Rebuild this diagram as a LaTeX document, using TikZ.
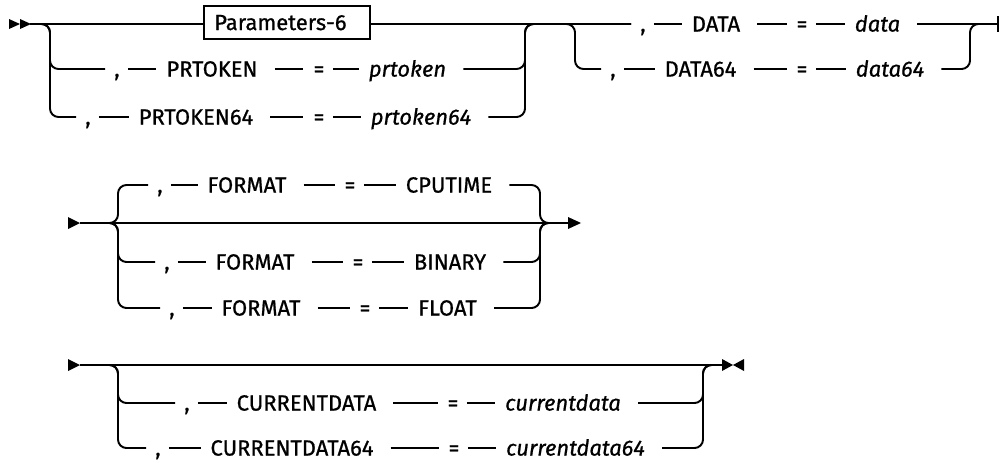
\documentclass[tikz,border=0pt]{standalone}
\usepackage{fontspec}
\setmainfont{Fira Sans}[FakeBold=0.8]
\usetikzlibrary{calc}
\tikzset{>=latex}

\tikzset{
  rail/.style={line width=1.1pt},
  link/.style={rail, shorten <=4.5pt, shorten >=5.5pt},
  klink/.style={link, shorten <=9.6pt},
  tail/.style={rail, rounded corners=4.8pt, shorten <=9.6pt, shorten >=5pt},
  fork/.style={rail, rounded corners=4.8pt, shorten >=5pt},
  word/.style={inner sep=0pt, text height=8.6pt, text depth=0pt, font=\fontsize{12.5}{15}\selectfont},
  var/.style={word, font=\fontsize{12.5}{15}\selectfont\itshape},
  frag/.style={draw, rail, text width=82.8pt, align=left, inner xsep=5.7pt, inner ysep=0pt,
    minimum height=18.7pt, text height=8.6pt, text depth=0pt, font=\fontsize{12.5}{15}\selectfont},
}

\begin{document}
\begin{tikzpicture}[x=0.02cm, y=-0.02cm]
\useasboundingbox (0,0) rectangle (1000,463);

% first line: Parameters-6 or PRTOKEN(64), then DATA(64)
\fill (9,19) -- (20,24) -- (9,29) -- cycle;
\fill (20,19) -- (31,24) -- (20,29) -- cycle;
\coordinate (a0) at (30,24);
\coordinate (s1) at (50,24);
\coordinate (j1) at (525,24);
\coordinate (s2) at (575,24);
\coordinate (j2) at (970,24);
\coordinate (aend) at (998,24);

\node[frag] (par) at (287,22.5) {Parameters-6};

\node[word] (cm1) at (117,69) {,};
\node[word] (pt1) at (212,69) {PRTOKEN};
\node[word] (eq1) at (319,69) {=};
\node[var] (pv1) at (407.5,69) {prtoken};
\node[word] (cm2) at (88,117) {,};
\node[word] (pt2) at (196,117) {PRTOKEN64};
\node[word] (eq2) at (319,117) {=};
\node[var] (pv2) at (421,117) {prtoken64};

\node[word] (cm3) at (643,24) {,};
\node[word] (dk1) at (716,24) {DATA};
\node[word] (eq3) at (802,24) {=};
\node[var] (dv1) at (877.5,24) {data};
\node[word] (cm4) at (613,69) {,};
\node[word] (dk2) at (700.5,69) {DATA64};
\node[word] (eq4) at (802,69) {=};
\node[var] (dv2) at (890,69) {data64};

\draw[rail] (a0) -- (a0 -| par.west);
\draw[rail, shorten >=5pt] (a0 -| par.east) -- (cm3);
\draw[fork] (a0) -- (s1) -- (cm1 -| s1) -- (cm1);
\draw[fork] (a0) -- (s1) -- (cm2 -| s1) -- (cm2);
\draw[link] (cm1) -- (pt1); \draw[klink] (pt1) -- (eq1); \draw[link] (eq1) -- (pv1);
\draw[link] (cm2) -- (pt2); \draw[klink] (pt2) -- (eq2); \draw[link] (eq2) -- (pv2);
\draw[tail] (pv1) -- (pv1 -| j1) -- (j1) -- (cm3);
\draw[tail] (pv2) -- (pv2 -| j1) -- (j1) -- (cm3);

\draw[fork] (a0 -| par.east) -- (s2) -- (cm4 -| s2) -- (cm4);
\draw[link] (cm3) -- (dk1); \draw[klink] (dk1) -- (eq3); \draw[link] (eq3) -- (dv1);
\draw[link] (cm4) -- (dk2); \draw[klink] (dk2) -- (eq4); \draw[link] (eq4) -- (dv2);
\draw[rail, shorten <=9.6pt] (dv1) -- (aend);
\draw[tail, shorten >=0pt] (dv2) -- (dv2 -| j2) -- (j2) -- (aend);
\draw[rail] ($(aend)+(0,-8)$) -- ($(aend)+(0,8)$);

% second line: FORMAT
\coordinate (b0) at (80,223);
\coordinate (s3) at (118,223);
\coordinate (j3) at (540,223);
\coordinate (b1) at (568,223);
\fill (68,217) -- (80,223) -- (68,229) -- cycle;
\fill (568,217) -- (581,223) -- (568,229) -- cycle;

\node[word] (cm5) at (160,185) {,};
\node[word] (fm1) at (247,185) {FORMAT};
\node[word] (eq5) at (350,185) {=};
\node[word] (fv1) at (449,185) {CPUTIME};
\node[word] (cm6) at (167,262) {,};
\node[word] (fm2) at (255,262) {FORMAT};
\node[word] (eq6) at (358,262) {=};
\node[word] (fv2) at (450,262) {BINARY};
\node[word] (cm7) at (172,308) {,};
\node[word] (fm3) at (261,308) {FORMAT};
\node[word] (eq7) at (365,308) {=};
\node[word] (fv3) at (447.5,308) {FLOAT};

\draw[rail] (b0) -- (b1);
\draw[fork] (b0) -- (s3) -- (cm5 -| s3) -- (cm5);
\draw[fork] (b0) -- (s3) -- (cm6 -| s3) -- (cm6);
\draw[fork] (b0) -- (s3) -- (cm7 -| s3) -- (cm7);
\draw[link] (cm5) -- (fm1); \draw[klink] (fm1) -- (eq5); \draw[link] (eq5) -- (fv1);
\draw[link] (cm6) -- (fm2); \draw[klink] (fm2) -- (eq6); \draw[link] (eq6) -- (fv2);
\draw[link] (cm7) -- (fm3); \draw[klink] (fm3) -- (eq7); \draw[link] (eq7) -- (fv3);
\draw[tail, shorten >=0pt] (fv1) -- (fv1 -| j3) -- (j3) -- (b1);
\draw[tail, shorten >=0pt] (fv2) -- (fv2 -| j3) -- (j3) -- (b1);
\draw[tail, shorten >=0pt] (fv3) -- (fv3 -| j3) -- (j3) -- (b1);

% third line: CURRENTDATA(64)
\coordinate (c0) at (80,365);
\coordinate (s4) at (118,365);
\coordinate (j4) at (703,365);
\coordinate (c1) at (722,365);
\fill (68,359) -- (80,365) -- (68,371) -- cycle;
\fill (722,359) -- (733,365) -- (722,371) -- cycle;
\fill (744,359) -- (733,365) -- (744,371) -- cycle;

\node[word] (cm8) at (187,403) {,};
\node[word] (ck1) at (306.5,403) {CURRENTDATA};
\node[word] (eq8) at (453,403) {=};
\node[var] (cv1) at (563,403) {currentdata};
\node[word] (cm9) at (158,448) {,};
\node[word] (ck2) at (292,448) {CURRENTDATA64};
\node[word] (eq9) at (454,448) {=};
\node[var] (cv2) at (575.5,448) {currentdata64};

\draw[rail] (c0) -- (c1);
\draw[fork] (c0) -- (s4) -- (cm8 -| s4) -- (cm8);
\draw[fork] (c0) -- (s4) -- (cm9 -| s4) -- (cm9);
\draw[link] (cm8) -- (ck1); \draw[klink] (ck1) -- (eq8); \draw[link] (eq8) -- (cv1);
\draw[link] (cm9) -- (ck2); \draw[klink] (ck2) -- (eq9); \draw[link] (eq9) -- (cv2);
\draw[tail, shorten >=0pt] (cv1) -- (cv1 -| j4) -- (j4) -- (c1);
\draw[tail, shorten >=0pt] (cv2) -- (cv2 -| j4) -- (j4) -- (c1);
\end{tikzpicture}
\end{document}
